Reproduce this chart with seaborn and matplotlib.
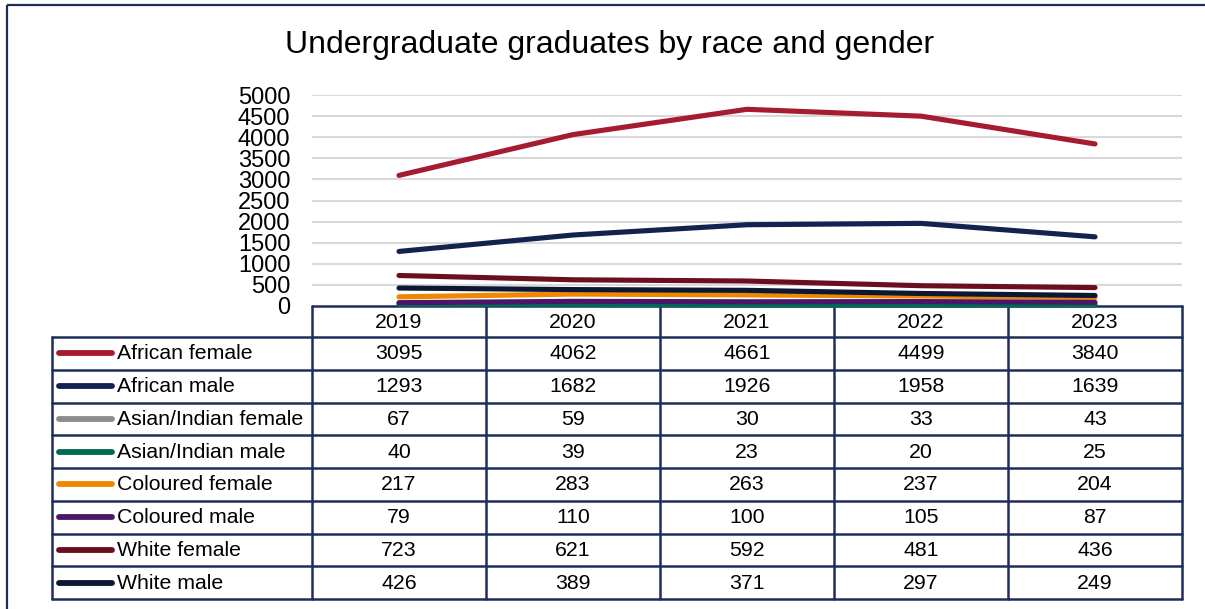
import matplotlib
matplotlib.use("Agg")
import matplotlib.pyplot as plt
from matplotlib.patches import Rectangle
import pandas as pd
import seaborn as sns

# Chart data
years = ["2019", "2020", "2021", "2022", "2023"]
series_names = [
    "African female", "African male", "Asian/Indian female", "Asian/Indian male",
    "Coloured female", "Coloured male", "White female", "White male",
]
african_female = [3095, 4062, 4661, 4499, 3840]
african_male = [1293, 1682, 1926, 1958, 1639]
asian_indian_female = [67, 59, 30, 33, 43]
asian_indian_male = [40, 39, 23, 20, 25]
coloured_female = [217, 283, 263, 237, 204]
coloured_male = [79, 110, 100, 105, 87]
white_female = [723, 621, 592, 481, 436]
white_male = [426, 389, 371, 297, 249]
series_values = [
    african_female, african_male, asian_indian_female, asian_indian_male,
    coloured_female, coloured_male, white_female, white_male,
]
series_colors = [
    "#A51C30", "#14224F", "#8C8C8C", "#006B54",
    "#EE8800", "#4B1669", "#6B0F1F", "#0B1733",
]
y_ticks = list(range(0, 5001, 500))

sns.set_theme(style="white")
plt.rcParams["font.family"] = ["Liberation Sans", "DejaVu Sans"]

W, H = 1205, 609
fig = plt.figure(figsize=(W / 100, H / 100), dpi=100)

# Full-figure pixel axes for frame and data table
tab = fig.add_axes([0, 0, 1, 1], zorder=0)
tab.set_xlim(0, W)
tab.set_ylim(H, 0)
tab.axis("off")

navy = "#1F2D5A"
tab.add_patch(Rectangle((7, 5), W + 10, H + 10, fill=False, ec=navy, lw=1.6))

# Plot area
left, right, top, bottom = 312, 1182, 95, 306
ax = fig.add_axes([left / W, (H - bottom) / H, (right - left) / W, (bottom - top) / H], zorder=1)
ax.patch.set_alpha(0)

df = pd.DataFrame(
    [(name, i, v) for name, vals in zip(series_names, series_values) for i, v in enumerate(vals)],
    columns=["series", "x", "value"],
)
sns.lineplot(
    data=df, x="x", y="value", hue="series", hue_order=series_names,
    palette=dict(zip(series_names, series_colors)), linewidth=3.7,
    sort=False, legend=False, ax=ax,
)
for ln in ax.lines:
    ln.set_solid_capstyle("round")
    ln.set_clip_on(False)

ax.set_xlim(-0.5, len(years) - 0.5)
ax.set_ylim(0, 5000)
ax.set_yticks(y_ticks)
ax.set_yticklabels([str(t) for t in y_ticks], fontsize=17)
ax.set_xticks([])
ax.set_xlabel("")
ax.set_ylabel("")
for t in y_ticks[1:]:
    ax.axhline(t, color="#D9D9D9", lw=1.5, zorder=0)
for s in ax.spines.values():
    s.set_visible(False)
ax.tick_params(axis="y", length=0, pad=15.5, colors="black")

fig.text(0.506, 1 - 45 / H, "Undergraduate graduates by race and gender",
         ha="center", va="center", fontsize=23, color="black")

# Data table
col_w = (right - left) / len(years)
col_x = [left + i * col_w for i in range(len(years) + 1)]
header_top, row_top = 306, 337
row_h = (599 - row_top) / len(series_names)
row_y = [row_top + i * row_h for i in range(len(series_names) + 1)]
legend_left = 52
lw_tab = 1.8
table_fs = 15.3

tab.plot([left, right], [header_top, header_top], color=navy, lw=lw_tab, zorder=5)
for y in row_y:
    tab.plot([legend_left, right], [y, y], color=navy, lw=lw_tab, zorder=5)
for x in col_x:
    tab.plot([x, x], [header_top, row_y[-1]], color=navy, lw=lw_tab, zorder=5)
tab.plot([legend_left, legend_left], [row_top, row_y[-1]], color=navy, lw=lw_tab, zorder=5)

for i, yr in enumerate(years):
    tab.text(left + (i + 0.5) * col_w, (header_top + row_top) / 2 + 1, yr,
             ha="center", va="center", fontsize=table_fs, color="black")

for r, (name, vals, color) in enumerate(zip(series_names, series_values, series_colors)):
    yc = row_y[r] + row_h / 2
    tab.plot([59, 112], [yc, yc], color=color, lw=4.2, solid_capstyle="round", zorder=6)
    tab.text(117, yc + 0.5, name, ha="left", va="center", fontsize=table_fs, color="black")
    for i, v in enumerate(vals):
        tab.text(left + (i + 0.5) * col_w, yc + 0.5, str(v),
                 ha="center", va="center", fontsize=table_fs, color="black")

fig.savefig("out.png", dpi=100)
